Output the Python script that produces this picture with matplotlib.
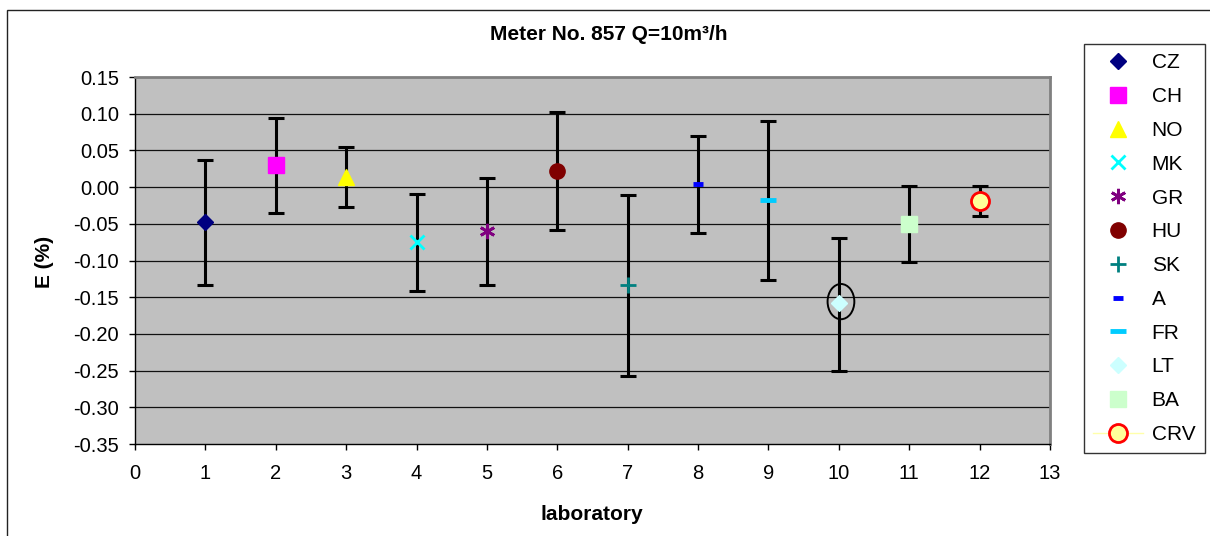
import matplotlib
matplotlib.use("Agg")
import matplotlib.pyplot as plt
from matplotlib.lines import Line2D
from matplotlib.patches import Ellipse, Rectangle

plt.rcParams["font.family"] = ["Liberation Sans", "DejaVu Sans"]

# Laboratory results for meter No. 857 at Q = 10 m3/h
labs = ["CZ", "CH", "NO", "MK", "GR", "HU", "SK", "A", "FR", "LT", "BA", "CRV"]
lab_no = [1, 2, 3, 4, 5, 6, 7, 8, 9, 10, 11, 12]
error_pct = [-0.048, 0.030, 0.014, -0.075, -0.060, 0.022, -0.134, 0.004, -0.018, -0.158, -0.050, -0.019]
upper_lim = [0.037, 0.094, 0.054, -0.009, 0.013, 0.102, -0.011, 0.069, 0.090, -0.069, 0.001, 0.001]
lower_lim = [-0.133, -0.035, -0.027, -0.141, -0.134, -0.059, -0.257, -0.062, -0.127, -0.250, -0.102, -0.040]

y_ticks = [0.15, 0.10, 0.05, 0.00, -0.05, -0.10, -0.15, -0.20, -0.25, -0.30, -0.35]
x_ticks = list(range(0, 14))

# marker style per laboratory
styles = {
    "CZ": dict(marker="D", ms=8.5, mfc="#000080", mec="#000080", mew=1),
    "CH": dict(marker="s", ms=11, mfc="#FF00FF", mec="#FF00FF", mew=1),
    "NO": dict(marker="^", ms=11, mfc="#FFFF00", mec="#FFFF00", mew=1),
    "MK": dict(marker="x", ms=10, mfc="#00FFFF", mec="#00FFFF", mew=2),
    "GR": dict(marker=(6, 2, 0), ms=11, mfc="#800080", mec="#800080", mew=2),
    "HU": dict(marker="o", ms=11, mfc="#800000", mec="#800000", mew=1),
    "SK": dict(marker="+", ms=11, mfc="#008080", mec="#008080", mew=2),
    "A": dict(marker="_", ms=7, mfc="#0000FF", mec="#0000FF", mew=3.5),
    "FR": dict(marker="_", ms=11.5, mfc="#00CCFF", mec="#00CCFF", mew=3.5),
    "LT": dict(marker="D", ms=8.5, mfc="#CCFFFF", mec="#CCFFFF", mew=1),
    "BA": dict(marker="s", ms=11, mfc="#CCFFCC", mec="#CCFFCC", mew=1),
    "CRV": dict(marker="o", ms=13, mfc="#FFFF99", mec="#FF0000", mew=2),
}

W, H = 1210, 536
fig = plt.figure(figsize=(W / 100, H / 100), dpi=100)
fig.patch.set_facecolor("white")

# outer chart frame
fig.patches.append(Rectangle((7 / W, -0.05), 1.2, 1 - 10 / H + 0.05, transform=fig.transFigure,
                             fill=False, ec="#222222", lw=1.0))

ax = fig.add_axes([135 / W, 92 / H, 915 / W, 367 / H])
ax.set_facecolor("#C0C0C0")
ax.set_xlim(0, 13)
ax.set_ylim(-0.35, 0.15)
ax.set_xticks(x_ticks)
ax.set_yticks(y_ticks)
ax.set_yticklabels([f"{v:.2f}" for v in y_ticks])
ax.tick_params(axis="both", direction="out", length=4.5, width=1, color="black",
               labelsize=14.5, pad=7)
ax.tick_params(axis="x", pad=10)
for v in y_ticks[1:-1]:
    ax.axhline(v, color="#111111", lw=0.9, zorder=1)

for side in ("left", "bottom"):
    ax.spines[side].set_color("black")
    ax.spines[side].set_linewidth(1.0)
for side in ("top", "right"):
    ax.spines[side].set_color("#808080")
    ax.spines[side].set_linewidth(2.0)

handles = []
for i, name in enumerate(labs):
    x = lab_no[i]
    y = error_pct[i]
    ax.errorbar([x], [y], yerr=[[y - lower_lim[i]], [upper_lim[i] - y]], fmt="none",
                ecolor="black", elinewidth=2.2, capsize=5.5, capthick=2.2, zorder=3)
    st = styles[name]
    ax.plot([x], [y], ls="none", zorder=4, **st)
    if name == "CRV":
        handles.append(Line2D([], [], color="#FFFFAA", lw=1, **st))
    else:
        handles.append(Line2D([], [], ls="none", **st))

# highlight ring around the LT result
lt = labs.index("LT")
ax.add_patch(Ellipse((lab_no[lt] + 0.03, error_pct[lt] + 0.002), width=0.38, height=0.048,
                     fill=False, ec="black", lw=1.4, zorder=5))

fig.text(609 / W, 1 - 35 / H, "Meter No. 857 Q=10m³/h", ha="center", va="center",
         fontsize=15, fontweight="bold")
fig.text(45 / W, 1 - 262 / H, "E (%)", ha="center", va="center", rotation=90,
         fontsize=15, fontweight="bold")
fig.text(592 / W, 1 - 514 / H, "laboratory", ha="center", va="center",
         fontsize=15, fontweight="bold")

leg = fig.legend(handles, labs, loc="upper left", bbox_to_anchor=(1084 / W, 1 - 44 / H),
                 borderaxespad=0, frameon=True, fancybox=False, fontsize=15,
                 handlelength=2.4, handletextpad=0.4, labelspacing=0.71,
                 borderpad=0.45, numpoints=1)
leg.get_frame().set_edgecolor("black")
leg.get_frame().set_linewidth(1.0)

fig.savefig("out.png", dpi=100, facecolor="white")
